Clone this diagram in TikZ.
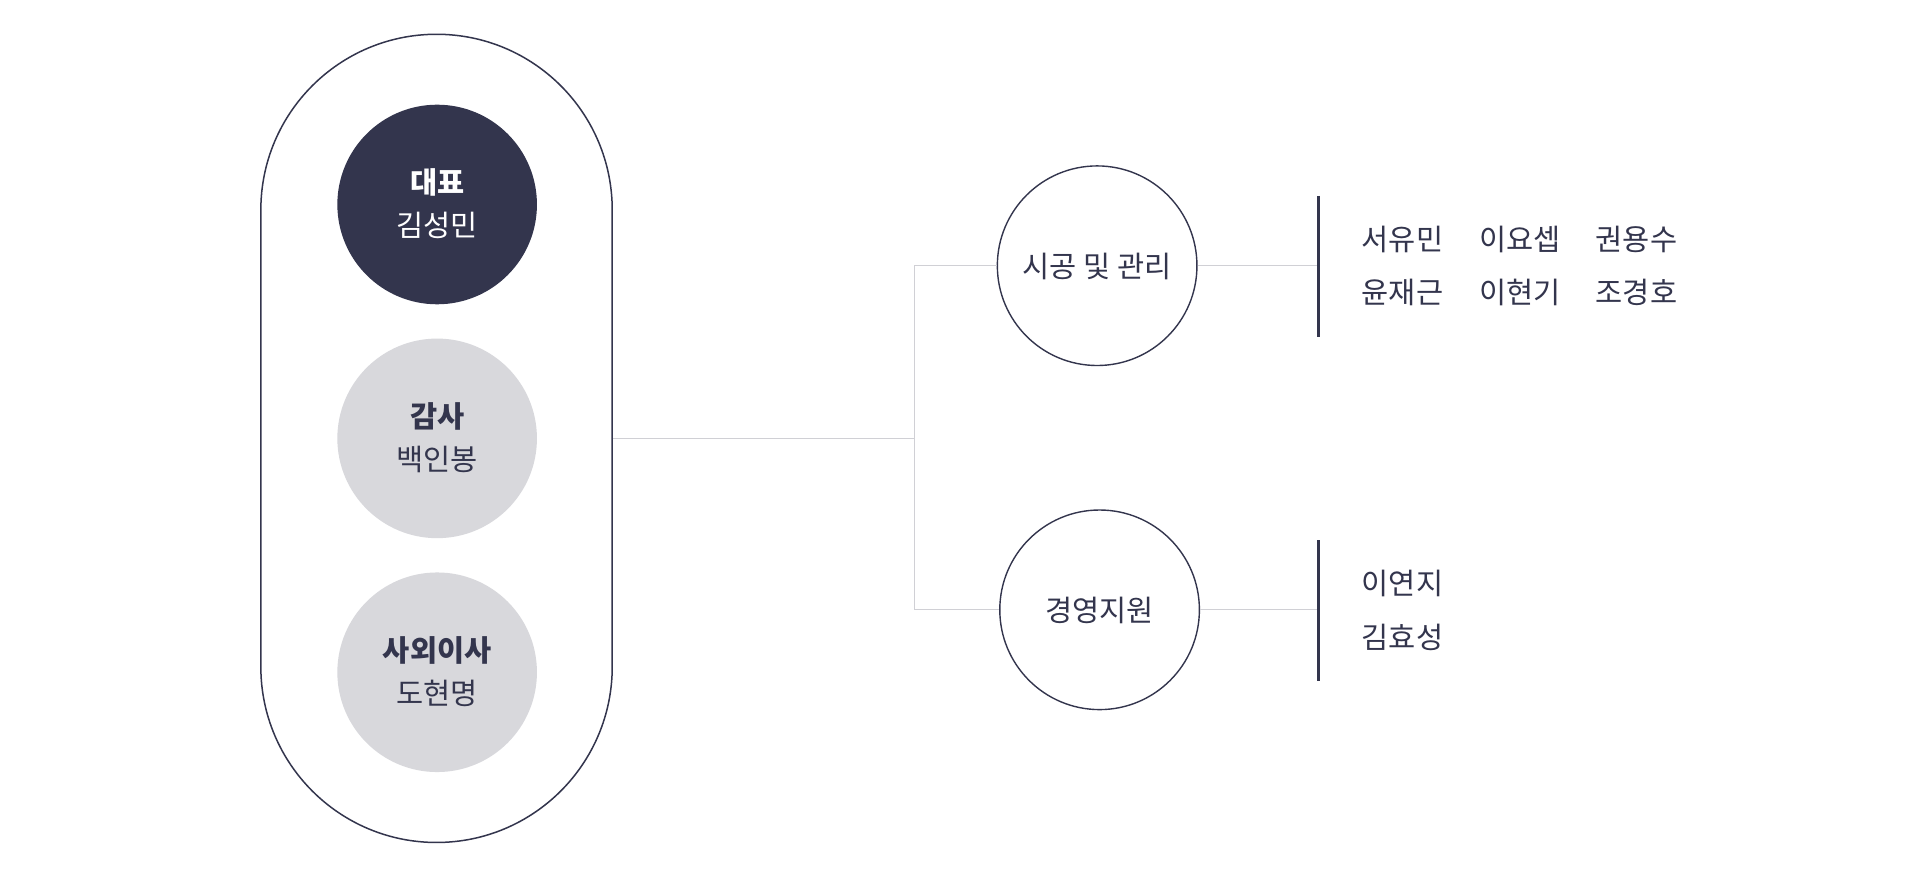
\documentclass[tikz,border=0pt]{standalone}
\usepackage{fontspec}
\setmainfont{Noto Sans CJK KR}
\definecolor{navy}{HTML}{33354D}
\definecolor{softgray}{HTML}{D8D8DC}
\definecolor{linegray}{HTML}{D0D0D5}
\begin{document}
\begin{tikzpicture}[x=1.2245pt,y=-1.2245pt,
  pill/.style={draw=navy, line width=1.5pt, rounded corners=175.7pt, minimum width=351.4pt, minimum height=808.2pt, inner sep=0pt},
  person/.style={circle, minimum size=199.6pt, inner sep=0pt},
  boss/.style={person, fill=navy},
  member/.style={person, fill=softgray},
  dept/.style={circle, draw=navy, line width=1.4pt, fill=white, minimum size=199.6pt, inner sep=0pt},
  lbl/.style={inner sep=0pt, text height=22.6pt, text depth=0pt, font=\fontsize{29.5}{34}\selectfont, text=navy},
  blbl/.style={lbl, font=\fontsize{29.5}{34}\selectfont\bfseries},
  conn/.style={draw=linegray, line width=1.3pt},
  bar/.style={draw=navy, line width=3.2pt}
]
\useasboundingbox (0,0) rectangle (1568,721);
\fill[white] (0,0) rectangle (1568,721);

% board pill
\node[pill] (board) at (356.5,358) {};
\node[boss] (ceo) at (357,167) {};
\node[member] (audit) at (357,358) {};
\node[member] (outside) at (357,549) {};
\node[blbl, text=white] (ceoT) at (357,149) {대표};
\node[lbl, text=white] (ceoN) at (357,184) {김성민};
\node[blbl] (auditT) at (357,340) {감사};
\node[lbl] (auditN) at (357,375) {백인봉};
\node[blbl] (outT) at (357,531) {사외이사};
\node[lbl] (outN) at (357,566) {도현명};

% departments
\node[dept] (d1) at (896,217) {};
\node[dept] (d2) at (898,498) {};
\node[lbl] (d1T) at (896,217) {시공 및 관리};
\node[lbl] (d2T) at (898,498) {경영지원};

% junction
\coordinate (j) at (747,358);
\draw[conn] (board.east) -- (j);
\draw[conn] (d1.west) -| (j) |- (d2.west);

% bars
\coordinate (b1t) at (1077,160);
\coordinate (b1b) at (1077,275);
\coordinate (b1) at (1077,217);
\coordinate (b2t) at (1077,441);
\coordinate (b2b) at (1077,556);
\coordinate (b2) at (1077,498);
\draw[conn] (d1.east) -- (b1);
\draw[conn] (d2.east) -- (b2);
\draw[bar] (b1t) -- (b1b);
\draw[bar] (b2t) -- (b2b);

% names
\node[lbl, anchor=west] (n1) at (1112,195) {서유민};
\node[lbl, anchor=west] (n2) at (1208,195) {이요셉};
\node[lbl, anchor=west] (n3) at (1303,195) {권용수};
\node[lbl, anchor=west] (n4) at (1112,239) {윤재근};
\node[lbl, anchor=west] (n5) at (1208,239) {이현기};
\node[lbl, anchor=west] (n6) at (1303,239) {조경호};
\node[lbl, anchor=west] (n7) at (1112,476) {이연지};
\node[lbl, anchor=west] (n8) at (1112,520) {김효성};
\end{tikzpicture}
\end{document}
